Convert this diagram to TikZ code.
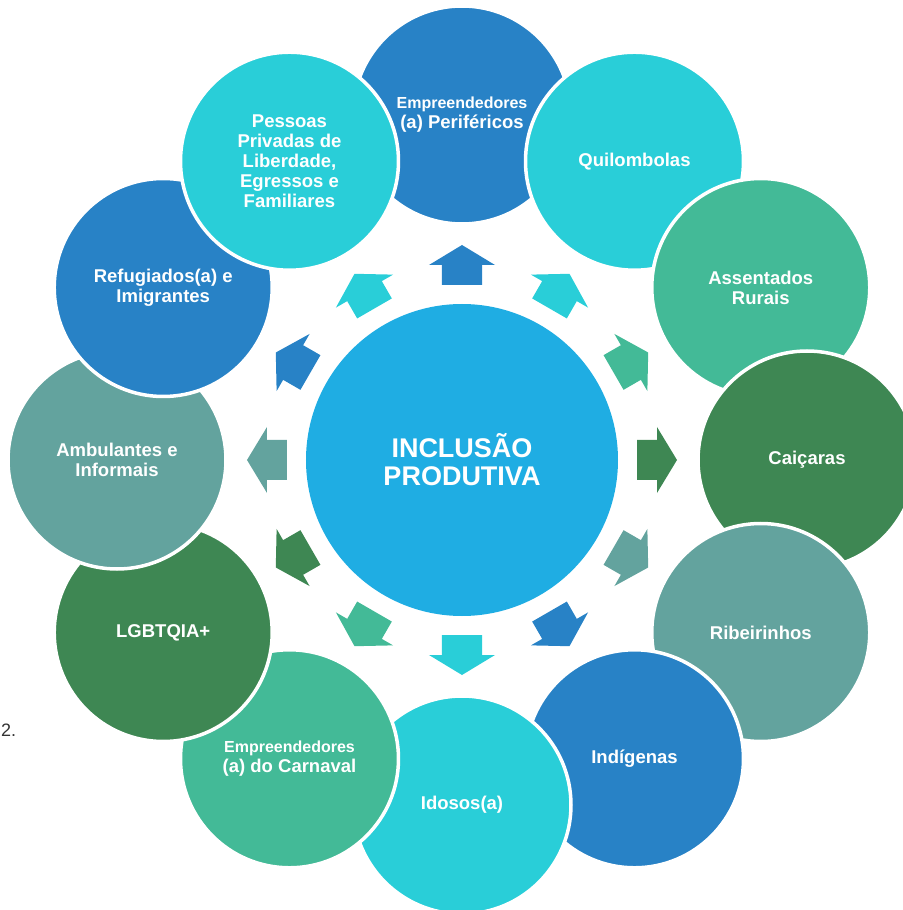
\documentclass[tikz,border=0pt]{standalone}
\usepackage{fontspec}
\setmainfont{Liberation Sans}
\usetikzlibrary{positioning}

\definecolor{azulcentro}{HTML}{1FADE3}
\definecolor{azul}{HTML}{2882C6}
\definecolor{ciano}{HTML}{29CED8}
\definecolor{verdeclaro}{HTML}{43BA97}
\definecolor{verde}{HTML}{3E8753}
\definecolor{cinza}{HTML}{63A39E}

\begin{document}
\begin{tikzpicture}[x=1pt, y=1pt,
    grupo/.style={circle, minimum size=218pt, inner sep=0pt, draw=white, line width=3.5pt, text=white, align=center, font=\bfseries\fontsize{18.5}{20}\selectfont},
    nucleo/.style={circle, minimum size=312pt, inner sep=0pt, fill=azulcentro, text=white, align=center, font=\bfseries\fontsize{27}{28}\selectfont}]

    \useasboundingbox (-462,-450) rectangle (440,460);

    \node[nucleo] (centro) at (0,0) {INCLUSÃO\\PRODUTIVA};

    % setas em volta do centro
    \foreach \ang/\cor in {90/azul, 60/ciano, 30/verdeclaro, 0/verde, -30/cinza, -60/azul,
                           -90/ciano, -120/verdeclaro, -150/verde, 180/cinza, 150/azul, 120/ciano}
        \fill[\cor, rotate=\ang] (175,-20) -- (195,-20) -- (195,-33) -- (215,0) -- (195,33) -- (195,20) -- (175,20) -- cycle;

    \node[grupo, fill=azul] (perifericos) at (90:345) {{\fontsize{16}{18}\selectfont Empreendedores}\\(a) Periféricos};
    \node[grupo, fill=ciano] (quilombolas) at (60:345) {Quilombolas};
    \node[grupo, fill=verdeclaro] (assentados) at (30:345) {Assentados\\Rurais};
    \node[grupo, fill=verde] (caicaras) at (0:345) {Caiçaras};
    \node[grupo, fill=cinza] (ribeirinhos) at (-30:345) {Ribeirinhos};
    \node[grupo, fill=azul] (indigenas) at (-60:345) {Indígenas};
    \node[grupo, fill=ciano] (idosos) at (-90:345) {Idosos(a)};
    \node[grupo, fill=verdeclaro] (carnaval) at (-120:345) {{\fontsize{16}{18}\selectfont Empreendedores}\\(a) do Carnaval};
    \node[grupo, fill=verde] (lgbt) at (-150:345) {LGBTQIA+};
    \node[grupo, fill=cinza] (ambulantes) at (180:345) {Ambulantes e\\Informais};
    \node[grupo, fill=azul] (refugiados) at (150:345) {Refugiados(a) e\\Imigrantes};
    \node[grupo, fill=ciano] (pessoas) at (120:345) {Pessoas\\Privadas de\\Liberdade,\\Egressos e\\Familiares};

    \node[anchor=base west, inner sep=0pt, font=\fontsize{18}{20}\selectfont, text=black!80] (nota) at (-461,-276) {2.};
\end{tikzpicture}
\end{document}
